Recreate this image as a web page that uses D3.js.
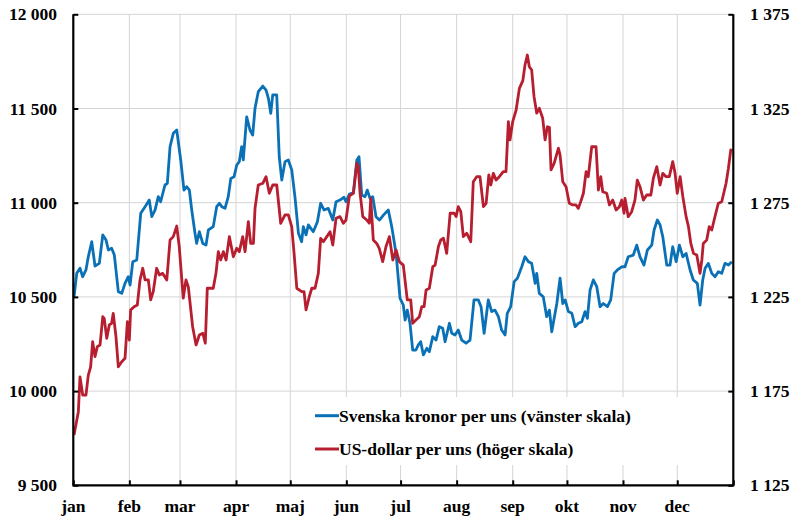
<!DOCTYPE html>
<html>
<head>
<meta charset="utf-8">
<script src="https://cdn.jsdelivr.net/npm/d3@7"></script>
<style>
  body { margin: 0; background: #fff; }
  svg text { font-family: "Liberation Serif", "Times New Roman", serif; font-weight: bold; fill: #000; }
</style>
</head>
<body>
<svg id="chart" width="794" height="517"></svg>
<script>
// guld 2017, dag på året (0 = 1 jan) och pris per uns
const months = ["jan", "feb", "mar", "apr", "maj", "jun", "jul", "aug", "sep", "okt", "nov", "dec"]
const leftTicks = [9500, 10000, 10500, 11000, 11500, 12000]
const rightTicks = [1125, 1175, 1225, 1275, 1325, 1375]
const seriesNames = ["Svenska kronor per uns (vänster skala)", "US-dollar per uns (höger skala)"]

const sek = [
  [0.4, 10500], [1.9, 10625], [3.7, 10652], [5.2, 10607], [7.0, 10643], [8.3, 10713], [10.2, 10793],
  [12.0, 10664], [14.4, 10678], [16.3, 10829], [18.1, 10802], [19.4, 10749], [21.2, 10758], [22.7, 10722],
  [24.9, 10528], [26.8, 10519], [28.6, 10572], [30.4, 10607], [31.4, 10563], [32.9, 10687], [35.1, 10696],
  [37.3, 10944], [39.7, 10979], [42.0, 11014], [43.4, 10926], [45.2, 10961], [47.0, 11032], [48.3, 11005],
  [50.7, 11094], [52.0, 11103], [53.5, 11297], [55.3, 11368], [57.2, 11386], [59.4, 11227], [61.2, 11067],
  [62.7, 11085], [64.2, 11067], [65.5, 10961], [67.3, 10838], [68.2, 10784], [69.7, 10846], [71.6, 10784],
  [73.4, 10775], [74.7, 10855], [77.4, 10873], [79.3, 10979], [80.8, 10997], [82.1, 10979], [83.9, 10970],
  [85.7, 11032], [87.1, 11129], [88.9, 11138], [90.4, 11200], [91.8, 11218], [93.1, 11297], [94.0, 11227],
  [95.9, 11456], [97.7, 11386], [99.2, 11359], [100.5, 11501], [102.3, 11589], [104.8, 11619], [106.6, 11598],
  [107.9, 11554], [109.2, 11474], [110.3, 11572], [112.5, 11572], [113.9, 11244], [115.3, 11120], [117.1, 11218],
  [118.9, 11227], [120.8, 11174], [122.6, 11030], [124.5, 10838], [126.3, 10793], [127.2, 10873], [128.7, 10829],
  [130.0, 10882], [132.7, 10846], [135.0, 10899], [136.8, 10997], [138.7, 10961], [141.0, 10970], [143.5, 10908],
  [145.3, 11005], [147.5, 11014], [149.7, 11029], [150.8, 11005], [152.7, 11046], [154.9, 11053], [156.8, 11227],
  [158.0, 11244], [159.5, 11041], [161.3, 11032], [162.6, 11067], [164.1, 11023], [165.6, 11032], [167.4, 10926],
  [169.3, 10908], [171.5, 10934], [174.2, 10961], [176.1, 10873], [178.5, 10731], [180.7, 10492], [182.5, 10457],
  [183.5, 10377], [184.7, 10430], [186.2, 10360], [187.7, 10218], [189.5, 10218], [190.8, 10245], [192.1, 10262],
  [193.6, 10192], [195.5, 10227], [196.9, 10209], [198.8, 10289], [200.6, 10271], [202.4, 10342], [204.3, 10333],
  [205.6, 10262], [208.0, 10360], [209.3, 10307], [211.1, 10298], [212.9, 10324], [214.8, 10271], [217.2, 10254],
  [219.4, 10271], [221.6, 10484], [224.0, 10484], [225.5, 10448], [227.2, 10307], [229.5, 10484], [231.4, 10422],
  [233.2, 10430], [235.1, 10395], [236.9, 10324], [238.8, 10298], [240.0, 10413], [241.9, 10448], [243.8, 10581],
  [245.6, 10599], [248.0, 10660], [249.8, 10713], [251.7, 10687], [253.5, 10678], [255.4, 10572], [256.3, 10625],
  [257.7, 10519], [259.9, 10501], [261.8, 10395], [263.3, 10430], [264.6, 10315], [267.4, 10465], [269.2, 10599],
  [270.7, 10465], [272.0, 10484], [273.8, 10422], [275.7, 10413], [277.5, 10342], [279.3, 10360], [281.2, 10368],
  [283.0, 10422], [284.3, 10386], [285.8, 10537], [287.6, 10590], [289.5, 10554], [291.3, 10448], [293.1, 10465],
  [295.4, 10448], [297.2, 10484], [299.1, 10625], [300.9, 10643], [303.3, 10660], [305.1, 10660], [306.9, 10713],
  [309.7, 10722], [311.6, 10775], [313.4, 10713], [315.6, 10669], [317.5, 10749], [319.9, 10775], [321.2, 10855],
  [323.0, 10908], [324.5, 10882], [326.0, 10819], [328.2, 10669], [330.0, 10669], [331.5, 10766], [333.4, 10687],
  [335.2, 10775], [337.1, 10713], [338.9, 10731], [341.1, 10643], [342.9, 10590], [345.1, 10572], [346.6, 10457],
  [348.1, 10590], [349.4, 10652], [351.2, 10678], [353.1, 10625], [354.9, 10607], [356.7, 10634], [358.6, 10625],
  [360.4, 10678], [362.3, 10669], [364.2, 10687]
]

const usd = [
  [0.4, 1151.7], [2.8, 1164.1], [3.7, 1182.6], [5.2, 1172.9], [7.0, 1172.9], [8.3, 1183.5], [9.6, 1187.9],
  [10.7, 1201.2], [12.0, 1193.3], [13.3, 1198.6], [14.8, 1199.5], [16.3, 1214.5], [17.1, 1213.6], [18.5, 1203.0],
  [19.9, 1210.1], [21.2, 1211.0], [22.1, 1216.3], [23.6, 1203.9], [24.9, 1187.9], [26.8, 1190.6], [28.6, 1192.4],
  [29.9, 1211.8], [31.0, 1202.1], [31.7, 1218.0], [33.6, 1219.8], [35.4, 1220.7], [36.9, 1234.0], [38.4, 1240.2],
  [39.7, 1234.0], [41.5, 1234.0], [42.8, 1223.4], [44.2, 1227.8], [46.1, 1240.2], [47.6, 1236.6], [49.4, 1237.5],
  [51.7, 1234.0], [53.5, 1255.2], [55.3, 1257.0], [57.2, 1262.6], [58.6, 1251.6], [60.8, 1224.3], [62.3, 1234.0],
  [63.6, 1230.4], [66.0, 1209.2], [67.9, 1199.5], [69.7, 1204.8], [71.6, 1205.7], [73.0, 1200.4], [74.1, 1229.6],
  [77.4, 1229.6], [78.9, 1237.5], [80.2, 1249.0], [81.5, 1244.6], [83.0, 1249.0], [84.5, 1244.6], [86.3, 1257.0],
  [88.5, 1246.3], [90.4, 1250.8], [91.8, 1249.0], [93.7, 1257.0], [95.0, 1249.0], [96.8, 1264.9], [98.1, 1253.4],
  [99.6, 1253.4], [100.5, 1272.0], [102.3, 1284.4], [104.8, 1285.3], [106.6, 1288.8], [108.4, 1280.0], [110.3, 1284.4],
  [112.5, 1284.4], [114.7, 1264.1], [117.1, 1268.5], [118.9, 1268.5], [120.8, 1262.3], [122.1, 1248.1], [123.6, 1229.6],
  [126.3, 1227.8], [127.6, 1227.8], [128.7, 1218.1], [130.5, 1225.1], [131.9, 1229.6], [133.7, 1229.6], [135.5, 1237.5],
  [136.8, 1256.1], [138.3, 1254.3], [140.2, 1257.0], [142.0, 1259.6], [143.5, 1252.5], [145.3, 1266.7], [147.5, 1267.6],
  [149.3, 1264.1], [150.8, 1265.8], [152.7, 1278.6], [154.9, 1280.0], [156.8, 1295.9], [157.6, 1294.1], [158.6, 1280.0],
  [160.1, 1267.6], [162.3, 1265.8], [163.7, 1264.1], [164.5, 1277.3], [165.9, 1255.2], [167.8, 1253.4], [169.2, 1250.8],
  [171.1, 1243.7], [172.9, 1251.6], [174.8, 1257.0], [176.7, 1244.6], [178.5, 1249.9], [180.3, 1243.7], [182.5, 1241.9],
  [184.7, 1223.4], [186.6, 1223.4], [187.7, 1211.0], [189.5, 1212.7], [191.4, 1214.5], [192.7, 1219.8], [194.0, 1219.8],
  [195.1, 1228.7], [196.9, 1229.6], [198.8, 1241.0], [200.1, 1241.9], [201.9, 1251.6], [203.2, 1255.2], [204.7, 1256.1],
  [206.5, 1248.1], [208.4, 1269.4], [210.6, 1269.4], [211.7, 1267.6], [212.9, 1272.9], [214.3, 1270.2], [215.7, 1257.0],
  [217.6, 1258.8], [219.8, 1254.3], [221.2, 1286.1], [223.1, 1288.8], [224.9, 1288.8], [226.8, 1272.9], [228.3, 1274.7],
  [229.8, 1289.7], [230.9, 1284.4], [232.3, 1290.6], [233.8, 1287.0], [235.6, 1288.8], [237.8, 1291.5], [239.3, 1291.5],
  [240.6, 1318.0], [241.5, 1308.3], [243.0, 1318.0], [244.9, 1324.2], [246.7, 1335.7], [248.6, 1339.8], [249.8, 1348.1],
  [251.1, 1353.4], [252.2, 1347.2], [253.5, 1345.4], [254.8, 1331.3], [256.3, 1322.5], [257.7, 1325.1], [259.6, 1319.8],
  [260.9, 1308.3], [262.2, 1315.3], [263.3, 1315.0], [264.2, 1292.4], [265.9, 1295.9], [268.3, 1303.9], [269.2, 1300.3],
  [270.7, 1286.1], [272.5, 1283.5], [274.3, 1274.7], [276.2, 1273.8], [278.0, 1273.8], [279.3, 1272.0], [280.6, 1275.5],
  [282.1, 1280.0], [283.6, 1291.5], [284.8, 1288.8], [286.7, 1304.7], [289.1, 1304.7], [290.4, 1281.7], [291.7, 1288.8],
  [292.8, 1280.8], [295.0, 1280.0], [296.5, 1273.8], [298.3, 1276.4], [300.2, 1271.1], [302.0, 1272.9], [303.3, 1276.4],
  [304.6, 1269.4], [305.1, 1277.3], [306.9, 1267.6], [308.8, 1270.2], [310.6, 1276.4], [311.9, 1287.0], [313.4, 1283.5],
  [315.3, 1276.4], [317.1, 1279.1], [319.4, 1279.1], [320.8, 1288.0], [322.7, 1294.1], [324.5, 1284.4], [326.0, 1290.6],
  [327.8, 1288.8], [329.6, 1288.8], [331.5, 1296.8], [332.8, 1290.6], [334.0, 1280.0], [335.6, 1288.8], [337.1, 1278.2],
  [338.9, 1267.6], [340.2, 1262.3], [341.5, 1253.4], [343.0, 1248.1], [344.8, 1247.2], [346.6, 1237.5], [347.6, 1244.6],
  [348.4, 1253.4], [350.3, 1255.2], [351.7, 1262.3], [353.1, 1260.5], [354.4, 1265.8], [356.7, 1274.7], [358.6, 1275.5],
  [361.0, 1285.3], [362.3, 1293.3], [363.6, 1303.0], [364.5, 1302.6]
]

const colors = ["#0a71b6", "#b71e2f"]

const svg = d3.select("#chart")
const mLeft = 73.3, mRight = 733.3, mTop = 14.3, mBottom = 485.3

const start = new Date(2017, 0, 1)
const end = new Date(2018, 0, 1)
const toDate = d => new Date(start.getTime() + d * 864e5)

const x = d3.scaleTime().domain([start, end]).range([mLeft, mRight])
const yL = d3.scaleLinear().domain([9500, 12000]).range([mBottom, mTop])
const yR = d3.scaleLinear().domain([1125, 1375]).range([mBottom, mTop])

const sv = d3.formatLocale({ decimal: ",", thousands: "\u00a0", grouping: [3], currency: ["", ""] })
const fmt = sv.format(",")

const monthStarts = d3.timeMonth.range(start, end)

// grid
const grid = svg.append("g").attr("stroke", "#d4d4d4").attr("stroke-width", 1)
grid.selectAll(".hg").data(leftTicks.slice(1)).enter().append("line")
  .attr("x1", mLeft).attr("x2", mRight)
  .attr("y1", d => yL(d)).attr("y2", d => yL(d))
grid.selectAll(".vg").data(monthStarts.slice(1)).enter().append("line")
  .attr("x1", d => x(d)).attr("x2", d => x(d))
  .attr("y1", mTop).attr("y2", mBottom)

// legend background, covers the grid
svg.append("rect").attr("x", 301).attr("y", 397).attr("width", 400).attr("height", 68).attr("fill", "#fff")

// lines
const lineL = d3.line().x(d => x(toDate(d[0]))).y(d => yL(d[1]))
const lineR = d3.line().x(d => x(toDate(d[0]))).y(d => yR(d[1]))

svg.append("path").datum(sek).attr("d", lineL)
  .attr("fill", "none").attr("stroke", colors[0]).attr("stroke-width", 2.8).attr("stroke-linejoin", "round")
svg.append("path").datum(usd).attr("d", lineR)
  .attr("fill", "none").attr("stroke", colors[1]).attr("stroke-width", 2.8).attr("stroke-linejoin", "round")

// axes
const yAxisL = svg.append("g").attr("transform", `translate(${mLeft},0)`)
  .call(d3.axisRight(yL).tickValues(leftTicks).tickSize(5).tickFormat(""))
const yAxisR = svg.append("g").attr("transform", `translate(${mRight},0)`)
  .call(d3.axisLeft(yR).tickValues(rightTicks).tickSize(5).tickFormat(""))
const xAxis = svg.append("g").attr("transform", `translate(0,${mBottom})`)
  .call(d3.axisTop(x).tickValues(monthStarts.concat([end])).tickSize(5).tickFormat(""))

for (const a of [yAxisL, yAxisR, xAxis]) {
  a.select(".domain").attr("stroke", "#000").attr("stroke-width", 2.2)
  a.selectAll(".tick line").attr("stroke", "#000").attr("stroke-width", 2)
}
yAxisL.select(".domain").attr("d", `M0,${mTop}V${mBottom}`)
yAxisR.select(".domain").attr("d", `M0,${mTop}V${mBottom}`)
xAxis.select(".domain").attr("d", `M${mLeft - 1},0H${mRight + 1}`)

// tick labels
svg.selectAll(".ll").data(leftTicks).enter().append("text")
  .attr("x", 57).attr("y", d => yL(d)).attr("dy", "0.35em")
  .attr("text-anchor", "end").attr("font-size", 17.5)
  .text(d => fmt(d))
svg.selectAll(".rl").data(rightTicks).enter().append("text")
  .attr("x", 750).attr("y", d => yR(d)).attr("dy", "0.35em")
  .attr("text-anchor", "start").attr("font-size", 17.5)
  .text(d => fmt(d))
svg.selectAll(".ml").data(monthStarts).enter().append("text")
  .attr("x", d => x(d)).attr("y", 512)
  .attr("text-anchor", "middle").attr("font-size", 17.5)
  .text((d, i) => months[i])

// legend
const lg = svg.append("g")
seriesNames.forEach((name, i) => {
  const ly = 415.7 + i * 33.3
  lg.append("line").attr("x1", 315).attr("x2", 339).attr("y1", ly).attr("y2", ly)
    .attr("stroke", colors[i]).attr("stroke-width", 3)
  lg.append("text").attr("x", 339).attr("y", ly + 6).attr("font-size", 17.5).text(name)
})
</script>
</body>
</html>
